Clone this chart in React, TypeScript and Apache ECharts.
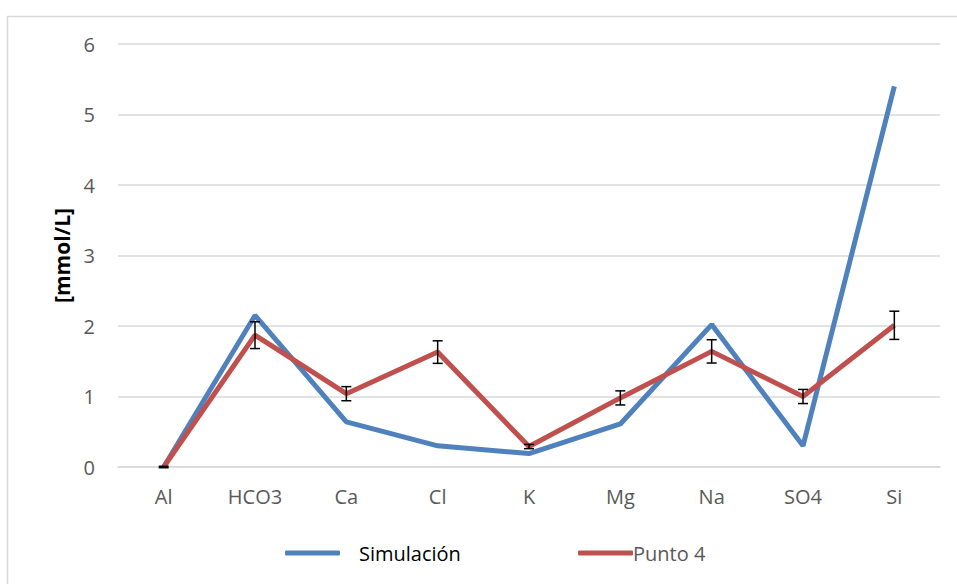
import React, { useEffect, useRef } from "react";
import * as echarts from "echarts";

const categories = ["Al", "HCO3", "Ca", "Cl", "K", "Mg", "Na", "SO4", "Si"];
const simulacion = [0, 2.15, 0.64, 0.3, 0.19, 0.61, 2.02, 0.3, 5.4];
const punto4 = [0, 1.87, 1.04, 1.63, 0.29, 0.98, 1.64, 1.0, 2.01];
const punto4Err = [0.01, 0.19, 0.1, 0.16, 0.03, 0.1, 0.165, 0.1, 0.2];
const yTicks = [0, 1, 2, 3, 4, 5, 6];

const FONT = "'Open Sans', 'Liberation Sans', sans-serif";

export default function App() {
  const ref = useRef<HTMLDivElement>(null);
  useEffect(() => {
    if (!ref.current) return;
    const chart = echarts.init(ref.current, undefined, { renderer: "svg" });
    const errData = categories.map((c, i) => [i, punto4[i] - punto4Err[i], punto4[i] + punto4Err[i]]);
    chart.setOption({
      animation: false,
      backgroundColor: "#ffffff",
      graphic: [
        {
          type: "rect",
          left: 5,
          top: 14,
          shape: { width: 1000, height: 1000 },
          style: { fill: "none", stroke: "#d9d9d9", lineWidth: 1.5 },
          silent: true,
          z: -10,
        },
      ],
      grid: { left: 118, right: 17, top: 44, bottom: 117 },
      legend: [
        {
          left: 280,
          top: 538,
          itemWidth: 55,
          itemHeight: 5,
          icon: "roundRect",
          data: [{ name: "Simulación", textStyle: { color: "#000000" } }],
          textStyle: { fontFamily: FONT, fontSize: 20, padding: [0, 0, 0, 14] },
        },
        {
          left: 573,
          top: 538,
          itemWidth: 55,
          itemHeight: 5,
          icon: "roundRect",
          data: [{ name: "Punto 4", textStyle: { color: "#595959" } }],
          textStyle: { fontFamily: FONT, fontSize: 20, padding: [0, 0, 0, -5] },
        },
      ],
      xAxis: {
        type: "category",
        data: categories,
        boundaryGap: true,
        axisLine: { show: true, lineStyle: { color: "#d9d9d9", width: 1.5 } },
        axisTick: { show: false },
        axisLabel: { color: "#595959", fontFamily: FONT, fontSize: 20, margin: 19 },
      },
      yAxis: {
        type: "value",
        min: 0,
        max: 6,
        interval: 1,
        name: "[mmol/L]",
        nameLocation: "middle",
        nameGap: 43,
        nameRotate: 90,
        nameTextStyle: { color: "#000000", fontFamily: FONT, fontSize: 21, fontWeight: "bold" },
        axisLine: { show: false },
        axisTick: { show: false },
        axisLabel: {
          color: "#595959",
          fontFamily: FONT,
          fontSize: 20,
          margin: 23,
          formatter: (v: number) => (yTicks.includes(v) ? String(v) : ""),
        },
        splitLine: { lineStyle: { color: "#d9d9d9", width: 1.5 } },
      },
      series: [
        {
          name: "Simulación",
          type: "line",
          data: simulacion,
          symbol: "none",
          lineStyle: { color: "#4f81bd", width: 5 },
          itemStyle: { color: "#4f81bd" },
          z: 2,
        },
        {
          name: "Punto 4",
          type: "line",
          data: punto4,
          symbol: "none",
          lineStyle: { color: "#c0504d", width: 5 },
          itemStyle: { color: "#c0504d" },
          z: 3,
        },
        {
          name: "err",
          type: "custom",
          data: errData,
          z: 4,
          renderItem: (params: any, api: any) => {
            const x = api.value(0);
            const lo = api.coord([x, api.value(1)]);
            const hi = api.coord([x, api.value(2)]);
            const hw = 5;
            const style = { stroke: "#000000", lineWidth: 1.5 };
            return {
              type: "group",
              children: [
                { type: "line", shape: { x1: lo[0], y1: lo[1], x2: hi[0], y2: hi[1] }, style },
                { type: "line", shape: { x1: lo[0] - hw, y1: lo[1], x2: lo[0] + hw, y2: lo[1] }, style },
                { type: "line", shape: { x1: hi[0] - hw, y1: hi[1], x2: hi[0] + hw, y2: hi[1] }, style },
              ],
            };
          },
        },
      ],
    });
    return () => chart.dispose();
  }, []);
  return (
    <div
      ref={ref}
      style={{ position: "fixed", left: 0, top: 0, width: 957, height: 584, background: "#fff" }}
    />
  );
}
